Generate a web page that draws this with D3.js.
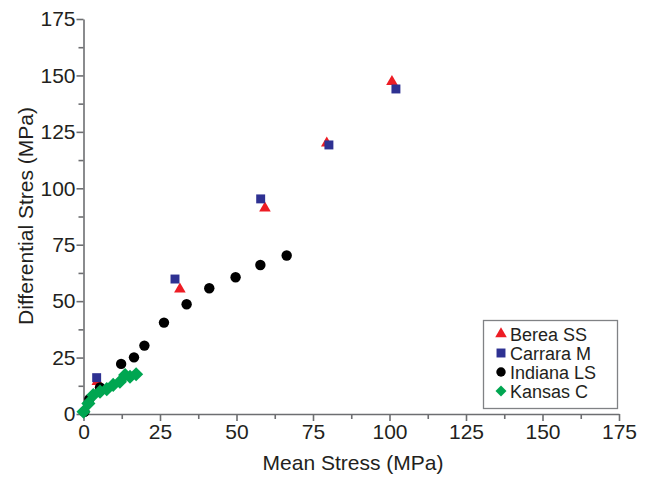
<!DOCTYPE html>
<html>
<head>
<meta charset="utf-8">
<script src="https://d3js.org/d3.v7.min.js"></script>
<style>
  body { margin: 0; background: #fff; }
  text { font-family: "Liberation Sans", Arial, sans-serif; fill: #231f20; }
</style>
</head>
<body>
<div id="chart_div"></div>
<script>
var chart_width = 647;
var chart_height = 480;

// plot area in pixels
var x_left = 83.5, x_right = 619;
var y_bottom = 414, y_top = 19;

var major_ticks = [0, 25, 50, 75, 100, 125, 150, 175];
var minor_ticks = [12.5, 37.5, 62.5, 87.5, 112.5, 137.5, 162.5];

var berea_x = [4.5, 31.5, 59.3, 79.5, 100.8];
var berea_y = [14.3, 55.3, 91.2, 120, 147.2];

var carrara_x = [4.3, 29.9, 57.9, 80.2, 102.1];
var carrara_y = [16.1, 59.8, 95.3, 119.2, 144];

var indiana_x = [0.3, 1.9, 5.4, 12.3, 16.5, 19.9, 26.3, 33.7, 41.1, 49.7, 57.8, 66.4];
var indiana_y = [1, 6.6, 11.8, 22.2, 25.1, 30.3, 40.5, 48.6, 55.7, 60.6, 66.0, 70.2];

var kansas_x = [0, 1.6, 3.2, 5.4, 7.6, 9.7, 11.9, 13.6, 15.2, 17.2];
var kansas_y = [1, 4.7, 8.4, 9.9, 11, 12.9, 14.3, 17.3, 16.5, 17.6];

var series_names = ["Berea SS", "Carrara M", "Indiana LS", "Kansas C"];

var series_list = [
    {name: series_names[0], xs: berea_x, ys: berea_y, shape: "triangle", colour: "#ed1c24"},
    {name: series_names[1], xs: carrara_x, ys: carrara_y, shape: "square", colour: "#2e3192"},
    {name: series_names[2], xs: indiana_x, ys: indiana_y, shape: "circle", colour: "#000000"},
    {name: series_names[3], xs: kansas_x, ys: kansas_y, shape: "diamond", colour: "#00a651"}
];

var x = d3.scaleLinear().domain([0, 175]).range([x_left, x_right]);
var y = d3.scaleLinear().domain([0, 175]).range([y_bottom, y_top]);

function symbol_path(shape, in_legend) {
    if (shape == "triangle") {
        return d3.symbol().type(d3.symbolTriangle).size(58)();
    }
    if (shape == "square") {
        return d3.symbol().type(d3.symbolSquare).size(80)();
    }
    if (shape == "circle") {
        return d3.symbol().type(d3.symbolCircle).size(in_legend ? 70 : 85)();
    }
    return d3.symbol().type(d3.symbolSquare).size(in_legend ? 60 : 100)();
}

function symbol_transform(shape, px, py) {
    if (shape == "diamond") {
        return "translate(" + px + "," + py + ") rotate(45)";
    }
    return "translate(" + px + "," + py + ")";
}

var svg = d3.select("#chart_div")
    .append("svg")
    .attr("width", chart_width)
    .attr("height", chart_height);

// minor ticks first so the major axis sits on top
svg.append("g")
    .attr("transform", "translate(0," + y_bottom + ")")
    .call(d3.axisBottom(x).tickValues(minor_ticks).tickSize(5).tickSizeOuter(0).tickFormat(""))
    .call(function(g) { g.select(".domain").remove(); });

svg.append("g")
    .attr("transform", "translate(" + x_left + ",0)")
    .call(d3.axisLeft(y).tickValues(minor_ticks).tickSize(5).tickSizeOuter(0).tickFormat(""))
    .call(function(g) { g.select(".domain").remove(); });

var x_axis = svg.append("g")
    .attr("transform", "translate(0," + y_bottom + ")")
    .call(d3.axisBottom(x).tickValues(major_ticks).tickSize(7).tickPadding(3).tickSizeOuter(0));

var y_axis = svg.append("g")
    .attr("transform", "translate(" + x_left + ",0)")
    .call(d3.axisLeft(y).tickValues(major_ticks).tickSize(7).tickPadding(1).tickSizeOuter(0));

svg.selectAll(".tick line, .domain")
    .attr("stroke", "#6d6e71")
    .attr("stroke-width", 1.6);

svg.selectAll(".tick text")
    .style("font-size", "21px")
    .style("font-family", "'Liberation Sans', Arial, sans-serif")
    .attr("fill", "#231f20");

svg.append("text")
    .attr("x", 353)
    .attr("y", 470)
    .attr("text-anchor", "middle")
    .style("font-size", "21px")
    .text("Mean Stress (MPa)");

svg.append("text")
    .attr("transform", "translate(33,216) rotate(-90)")
    .attr("text-anchor", "middle")
    .style("font-size", "21px")
    .text("Differential Stres (MPa)");

// data points
series_list.forEach(function(series) {
    var points = series.xs.map(function(xv, i) { return [xv, series.ys[i]]; });
    svg.append("g")
        .selectAll("path")
        .data(points)
        .enter()
        .append("path")
        .attr("d", symbol_path(series.shape, false))
        .attr("transform", function(d) { return symbol_transform(series.shape, x(d[0]), y(d[1])); })
        .attr("fill", series.colour);
});

// legend
var legend = svg.append("g");
legend.append("rect")
    .attr("x", 483.5)
    .attr("y", 320.5)
    .attr("width", 134)
    .attr("height", 88)
    .attr("fill", "#fff")
    .attr("stroke", "#808285")
    .attr("stroke-width", 1.3);

series_list.forEach(function(series, i) {
    var ly = 334 + i * 19;
    legend.append("path")
        .attr("d", symbol_path(series.shape, true))
        .attr("transform", symbol_transform(series.shape, 501, ly))
        .attr("fill", series.colour);
    legend.append("text")
        .attr("x", 510)
        .attr("y", ly + 6.5)
        .style("font-size", "18px")
        .text(series.name);
});
</script>
</body>
</html>
